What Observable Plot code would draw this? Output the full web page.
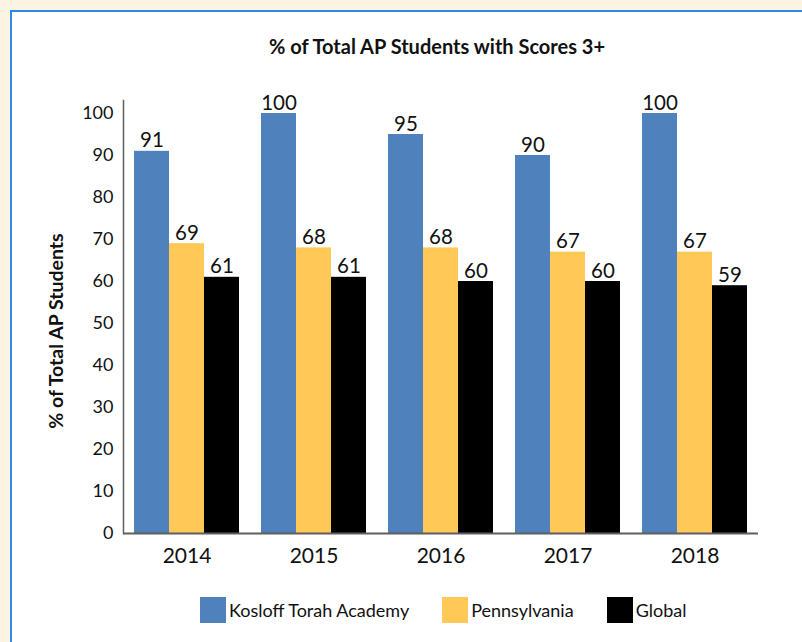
<!DOCTYPE html>
<html>
<head>
<meta charset="utf-8">
<script src="https://cdn.jsdelivr.net/npm/d3@7"></script>
<script src="https://cdn.jsdelivr.net/npm/@observablehq/plot@0.6"></script>
<style>
  html, body { margin: 0; padding: 0; }
  body { width: 802px; height: 642px; background: #fdf3e2; position: relative; overflow: hidden; font-family: Lato, "Open Sans", sans-serif; }
  #box { position: absolute; left: 10px; top: 10px; width: 800px; height: 640px; background: #fff; border-left: 2px solid #2a8be0; border-top: 2px solid #2a8be0; }
  #chart { position: absolute; left: 0; top: 0; }
  #title { position: absolute; left: 0; width: 874px; top: 34px; text-align: center; font-weight: bold; font-size: 20px; color: #111; }
  #ylabel { position: absolute; left: 55px; top: 331px; transform: translate(-50%, -50%) rotate(-90deg); white-space: nowrap; font-weight: bold; font-size: 19.5px; color: #111; }
  #legend { position: absolute; left: 200px; top: 597px; display: flex; align-items: center; font-size: 18px; color: #111; }
  .item { display: flex; align-items: center; margin-right: 33px; }
  .sw { width: 26px; height: 26px; margin-right: 3px; }
</style>
</head>
<body>
<div id="box"></div>
<div id="chart"></div>
<div id="title">% of Total AP Students with Scores 3+</div>
<div id="ylabel">% of Total AP Students</div>
<div id="legend"></div>
<script>
const years = ["2014", "2015", "2016", "2017", "2018"];
const series = ["Kosloff Torah Academy", "Pennsylvania", "Global"];
const kosloff = [91, 100, 95, 90, 100];
const pennsylvania = [69, 68, 68, 67, 67];
const global = [61, 61, 60, 60, 59];
const yTicks = [0, 10, 20, 30, 40, 50, 60, 70, 80, 90, 100];
const colors = ["#4f81bd", "#ffc857", "#000000"];

const seriesValues = [kosloff, pennsylvania, global];
const data = years.flatMap((yr, i) => series.map((s, j) => ({year: yr, series: s, value: seriesValues[j][i]})));

const chart = Plot.plot({
  width: 802,
  height: 642,
  marginLeft: 123,
  marginRight: 44,
  marginTop: 100,
  marginBottom: 109,
  style: {fontFamily: "Lato, 'Open Sans', sans-serif", color: "#111", background: "transparent"},
  fx: {domain: years, padding: 0, label: null},
  x: {domain: series, axis: null, paddingInner: 0, paddingOuter: 0.28},
  y: {domain: [0, 103.1], label: null},
  color: {domain: series, range: colors},
  marks: [
    Plot.barY(data, {fx: "year", x: "series", y: "value", fill: "series"}),
    Plot.text(data, {fx: "year", x: "series", y: "value", text: "value", lineAnchor: "bottom", dy: -4, fontSize: 20.5, fill: "#111"}),
    Plot.ruleY([0], {stroke: "#5f5f5f", strokeWidth: 2}),
    Plot.frame({anchor: "left", facetAnchor: "left", stroke: "#5f5f5f", strokeWidth: 1.5}),
    Plot.axisY({ticks: yTicks, tickSize: 0, tickPadding: 10, fontSize: 18, label: null}),
    Plot.axisFx({anchor: "bottom", tickSize: 0, tickPadding: 15, fontSize: 21, label: null})
  ]
});
document.getElementById("chart").appendChild(chart);

const legend = document.getElementById("legend");
series.forEach((s, i) => {
  const item = document.createElement("div");
  item.className = "item";
  const sw = document.createElement("div");
  sw.className = "sw";
  sw.style.background = colors[i];
  const t = document.createElement("span");
  t.textContent = s;
  item.appendChild(sw);
  item.appendChild(t);
  legend.appendChild(item);
});
</script>
</body>
</html>
